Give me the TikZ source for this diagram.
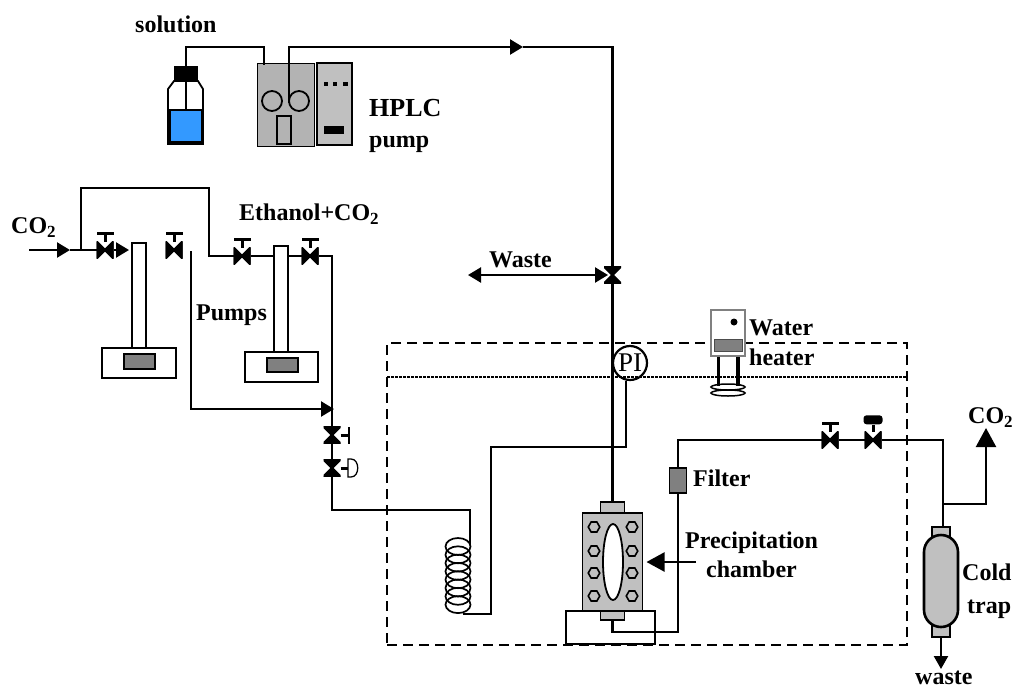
\documentclass[tikz,border=0pt]{standalone}
\usepackage{fontspec}
\setmainfont{Liberation Serif}
\usetikzlibrary{calc,arrows.meta,positioning,shapes.geometric}
\definecolor{myLight}{HTML}{C0C0C0}
\definecolor{myMid}{HTML}{B3B3B3}
\definecolor{myDark}{HTML}{808080}
\definecolor{myBlue}{HTML}{3399FF}
\newcommand{\myCOtwo}{CO\raisebox{-4pt}{\fontsize{17}{17}\selectfont 2}}
\tikzset{
myLabel/.style={
	anchor=base west,inner sep=0pt,text=black,
	font=\bfseries\fontsize{24}{28}\selectfont
}
, myBox/.style={
	rectangle,draw=black,fill=white,line width=1.8pt,
	inner sep=0pt,outer sep=0pt
}
, myValveH/.style={
	rectangle,inner sep=0pt,outer sep=0pt,minimum size=17pt,
	path picture = {
		\filldraw[black,line width=2.4pt]
		(path picture bounding box.north west) -- (path picture bounding box.south west)
		-- (path picture bounding box.north east) -- (path picture bounding box.south east) -- cycle;
	}
}
, myValveV/.style={
	rectangle,inner sep=0pt,outer sep=0pt,minimum size=17pt,
	path picture = {
		\filldraw[black,line width=2.4pt]
		(path picture bounding box.north west) -- (path picture bounding box.north east)
		-- (path picture bounding box.south west) -- (path picture bounding box.south east) -- cycle;
	}
}
, myBar/.style={
	rectangle,fill=black,inner sep=0pt,outer sep=0pt,
	minimum width=17pt,minimum height=3pt
}
, myBarV/.style={
	rectangle,fill=black,inner sep=0pt,outer sep=0pt,
	minimum width=2pt,minimum height=17pt
}
, myBolt/.style={
	regular polygon,regular polygon sides=6,draw=black,fill=myLight,
	line width=1.6pt,inner sep=0pt,minimum size=11.5pt
}
, myTurn/.style={
	ellipse,draw=black,line width=1.7pt,inner sep=0pt,
	minimum width=25pt,minimum height=17pt
}
% link
, myPipe/.style={line width=2.3pt,color=black}
, myArrow/.style={-{Triangle[length=13pt,width=15pt]},line width=2.3pt,color=black}
, myStem/.style={line width=3pt,color=black}
}

\begin{document}
\begin{tikzpicture}[x=1pt,y=-1pt]
	\useasboundingbox (0,0) rectangle (1013,689);
	% enclosure
	\node[myBox,fill=none,dash pattern=on 10pt off 6pt,line width=2.4pt,minimum width=520pt,minimum height=302pt] (Oven) at (647,494) {};
	\coordinate (DotLeft) at (387,377);
	\coordinate (DotRight) at (907,377);
	\draw[line width=2.2pt,dash pattern=on 2.5pt off 1.5pt] (DotLeft) -- (DotRight);

	% solution bottle
	\draw[black,line width=1.8pt,fill=white] (174,81) -- (168,89) -- (168,144) -- (203,144) -- (203,89) -- (198,81) -- cycle;
	\node[myBox,fill=myBlue,minimum width=32pt,minimum height=32pt] (Liquid) at (186,126) {};
	\node[rectangle,fill=black,inner sep=0pt,minimum width=24pt,minimum height=15pt] (BottleCap) at (186,73.5) {};
	% HPLC pump
	\node[myBox,fill=myMid,line width=1pt,minimum width=57pt,minimum height=83pt] (PumpHead) at (285.5,104.5) {};
	\node[circle,draw=black,line width=1.8pt,inner sep=0pt,minimum size=20pt] (HeadA) at (272,101) {};
	\node[circle,draw=black,line width=1.8pt,inner sep=0pt,minimum size=20pt] (HeadB) at (299,101) {};
	\node[myBox,fill=none,minimum width=14pt,minimum height=28pt] (HeadSlot) at (284,130) {};
	\node[myBox,fill=myLight,line width=2.6pt,minimum width=35pt,minimum height=82pt] (PumpPanel) at (334.5,104) {};
	\node[rectangle,fill=black,inner sep=0pt,minimum size=4.5pt] (PanelDotA) at (326,84) {};
	\node[rectangle,fill=black,inner sep=0pt,minimum size=4.5pt] (PanelDotB) at (335,84) {};
	\node[rectangle,fill=black,inner sep=0pt,minimum size=4.5pt] (PanelDotC) at (345.5,84) {};
	\node[rectangle,fill=black,inner sep=0pt,minimum width=20pt,minimum height=8pt] (PanelKey) at (334,130) {};

	% syringe pumps
	\node[myBox,minimum width=14pt,minimum height=105pt] (CylA) at (139,295.5) {};
	\node[myBox,minimum width=74pt,minimum height=30pt] (BaseA) at (139,363) {};
	\node[myBox,fill=myDark,minimum width=31pt,minimum height=15pt] (ScreenA) at (139.5,361.5) {};
	\node[myBox,minimum width=14pt,minimum height=106pt] (CylB) at (281,299) {};
	\node[myBox,minimum width=73pt,minimum height=30pt] (BaseB) at (281.5,367) {};
	\node[myBox,fill=myDark,minimum width=31pt,minimum height=14pt] (ScreenB) at (282.5,365) {};

	% valves
	\node[myValveH] (ValveA) at (105,250) {};
	\node[myValveH] (ValveB) at (174,250) {};
	\node[myValveH] (ValveC) at (242,256) {};
	\node[myValveH] (ValveD) at (310,256) {};
	\node[myValveV] (ValveE) at (332,435) {};
	\node[myValveV] (ValveF) at (332,468) {};
	\node[myValveV] (ValveW) at (612.5,275) {};
	\node[myValveH] (ValveG) at (830,440) {};
	\node[myValveH] (ValveH) at (873,440) {};
	\node[myBar] (BarA) [above=7pt of ValveA] {};
	\node[myBar] (BarB) [above=7pt of ValveB] {};
	\node[myBar] (BarC) [above=7pt of ValveC] {};
	\node[myBar] (BarD) [above=7pt of ValveD] {};
	\node[myBarV] (BarE) [right=7pt of ValveE] {};
	\node[myBar] (BarG) [above=7pt of ValveG] {};
	\node[rectangle,rounded corners=3pt,fill=black,inner sep=0pt,minimum width=19pt,minimum height=9pt] (DomeH) [above=7pt of ValveH] {};
	\draw[myStem] (ValveA) -- (BarA);
	\draw[myStem] (ValveB) -- (BarB);
	\draw[myStem] (ValveC) -- (BarC);
	\draw[myStem] (ValveD) -- (BarD);
	\draw[myStem] (ValveE) -- (BarE);
	\draw[myStem] (ValveG) -- (BarG);
	\draw[myStem] (ValveH) -- (DomeH);
	% diaphragm on the second valve
	\coordinate (DiaTop) at (348,459);
	\coordinate (DiaBot) at (348,477);
	\draw[myStem] (ValveF) -- ($(DiaTop)!0.5!(DiaBot)$);
	\draw[line width=1.3pt] (DiaTop) -- (DiaBot) -- ++(3,0) .. controls (360,477) and (360,459) .. (351,459) -- cycle;

	% PI and heater
	\node[circle,draw=black,line width=2.2pt,inner sep=0pt,minimum size=34pt,font=\fontsize{27}{27}\selectfont] (PI) at (630,363) {PI};
	\coordinate (LegA) at (718,356);
	\coordinate (LegAEnd) at (718,386);
	\coordinate (LegB) at (738,356);
	\coordinate (LegBEnd) at (738,386);
	\draw[line width=3pt] (LegA) -- (LegAEnd);
	\draw[line width=3.4pt] (LegB) -- (LegBEnd);
	\node[ellipse,draw=black,line width=1.5pt,inner sep=0pt,minimum width=34pt,minimum height=6pt] (RingA) at (728,387) {};
	\node[ellipse,draw=black,line width=1.5pt,inner sep=0pt,minimum width=34pt,minimum height=6pt] (RingB) at (728,393) {};
	\node[myBox,draw=myDark,minimum width=34pt,minimum height=46pt] (Heater) at (728,333) {};
	\node[circle,fill=black,inner sep=0pt,minimum size=7pt] (HeaterLamp) at (734,322) {};
	\node[myBox,draw=black!70,fill=myDark,line width=1pt,minimum width=28pt,minimum height=12pt] (HeaterBar) at (728,345) {};

	% coil
	\node[myTurn] (CoilA) at (458,546.5) {};
	\node[myTurn] (CoilB) at (458,554.8) {};
	\node[myTurn] (CoilC) at (458,563.1) {};
	\node[myTurn] (CoilD) at (458,571.4) {};
	\node[myTurn] (CoilE) at (458,579.7) {};
	\node[myTurn] (CoilF) at (458,588) {};
	\node[myTurn] (CoilG) at (458,596.3) {};
	\node[myTurn] (CoilH) at (458,604.6) {};

	% chamber
	\node[myBox,minimum width=89pt,minimum height=33pt] (ChamberBase) at (610.5,627.5) {};
	\node[myBox,fill=myLight,minimum width=24pt,minimum height=11pt] (ChamberTop) at (612.5,507.5) {};
	\node[myBox,fill=myLight,minimum width=24pt,minimum height=9pt] (ChamberFoot) at (612.5,615.5) {};
	\node[myBox,fill=myLight,minimum width=60pt,minimum height=98pt] (Chamber) at (612.5,562) {};
	\node[ellipse,draw=black,fill=white,line width=1.8pt,inner sep=0pt,minimum width=20pt,minimum height=76pt] (Window) at (613,562) {};
	\node[myBolt] (BoltA) at (594,527) {};
	\node[myBolt] (BoltB) at (594,551) {};
	\node[myBolt] (BoltC) at (594,573) {};
	\node[myBolt] (BoltD) at (594,596) {};
	\node[myBolt] (BoltE) at (632,527) {};
	\node[myBolt] (BoltF) at (632,551) {};
	\node[myBolt] (BoltG) at (632,573) {};
	\node[myBolt] (BoltH) at (632,596) {};
	\node[myBox,fill=myDark,minimum width=17pt,minimum height=25pt] (Filter) at (678,480.5) {};

	% cold trap
	\node[myBox,fill=myLight,minimum width=18pt,minimum height=110pt] (TrapCap) at (941,582) {};
	\node[myBox,fill=myLight,line width=2.6pt,rounded corners=17pt,minimum width=34pt,minimum height=92pt] (Trap) at (941,581) {};

	% links
	\coordinate (SolTop) at (186,47);
	\coordinate (HeadIn) at (264,65);
	\draw[myPipe] (Liquid.north) -- (SolTop) -| (HeadIn);
	\coordinate (HeadOut) at (289,103);
	\coordinate (OutMark) at (523,47);
	\draw[myArrow] (HeadOut) |- (OutMark);
	\draw[myPipe] (OutMark) -| (ValveW.north);
	\draw[myPipe] (ValveW.south) -- (ChamberTop.north);

	\coordinate (InStart) at (29,250);
	\coordinate (InMark) at (70,250);
	\coordinate (CylAIn) at (129,250);
	\coordinate (Split) at (81,250);
	\coordinate (LoopTop) at (209,188);
	\draw[myArrow] (InStart) -- (InMark);
	\draw[myPipe] (InMark) -- (ValveA);
	\draw[myArrow] (ValveA) -- (CylAIn);
	\draw[myPipe] (Split) |- (LoopTop) |- (ValveC);
	\draw[myPipe] (ValveC) -- (CylB.west |- ValveC);
	\draw[myPipe] (CylB.east |- ValveD) -- (ValveD);
	\draw[myPipe] (ValveD) -| (ValveE.north);
	\draw[myPipe] (ValveE) -- (ValveF);
	\coordinate (PumpOut) at (191,251);
	\coordinate (MixMark) at (334,409);
	\draw[myArrow] (PumpOut) |- (MixMark);
	\coordinate (CoilRun) at (470,510);
	\coordinate (CoilIn) at (470,545);
	\draw[myPipe] (ValveF.south) |- (CoilRun) -- (CoilIn);
	\coordinate (CoilOut) at (463,614);
	\coordinate (RiseTop) at (491,447);
	\draw[myPipe] (CoilOut) -| (RiseTop) -| (PI.258);
	\coordinate (WasteEnd) at (468,275);
	\draw[myPipe,{Triangle[length=13pt,width=15pt]}-{Triangle[length=13pt,width=15pt]},shorten >=4.5pt] (WasteEnd) -- (ValveW.center);

	\coordinate (FootTurn) at (678,632);
	\draw[myPipe] (ChamberFoot.south) |- (FootTurn) -- (Filter.south);
	\draw[myPipe] (Filter.north) |- (ValveG.west);
	\draw[myPipe] (ValveG) -- (ValveH);
	\coordinate (TrapIn) at (943,528);
	\draw[myPipe] (ValveH) -| (TrapIn);
	\coordinate (TrapJoint) at (943,504);
	\coordinate (VentTip) at (986,428);
	\draw[myPipe,-{Triangle[length=19pt,width=20pt]}] (TrapJoint) -| (VentTip);
	\coordinate (DrainTip) at (941,669);
	\draw[myPipe,-{Triangle[length=13pt,width=14pt]}] (TrapCap.south) -- (DrainTip);
	\coordinate (ArrowTail) at (696,562);
	\draw[myPipe,-{Triangle[length=18pt,width=19pt]},shorten >=4pt] (ArrowTail) -- (Chamber.east);

	% labels
	\node[myLabel] (LabSolution) at (135,32) {solution};
	\node[myLabel,font=\bfseries\fontsize{26}{28}\selectfont] (LabHPLC) at (369,116) {HPLC};
	\node[myLabel] (LabPump) at (369,147) {pump};
	\node[myLabel] (LabCOin) at (11,233) {\myCOtwo};
	\node[myLabel] (LabEthanol) at (239,220) {Ethanol+\myCOtwo};
	\node[myLabel] (LabPumps) at (196,320) {Pumps};
	\node[myLabel] (LabWaste) at (489,267) {Waste};
	\node[myLabel] (LabWater) at (749,335) {Water};
	\node[myLabel] (LabHeater) at (749,365) {heater};
	\node[myLabel] (LabFilter) at (693,486) {Filter};
	\node[myLabel] (LabPrecip) at (685,548) {Precipitation};
	\node[myLabel] (LabChamber) at (706,577) {chamber};
	\node[myLabel] (LabCOout) at (968,423) {\myCOtwo};
	\node[myLabel] (LabCold) at (962,580) {Cold};
	\node[myLabel] (LabTrap) at (967,613) {trap};
	\node[myLabel] (LabDrain) at (915,684) {waste};
\end{tikzpicture}
\end{document}
